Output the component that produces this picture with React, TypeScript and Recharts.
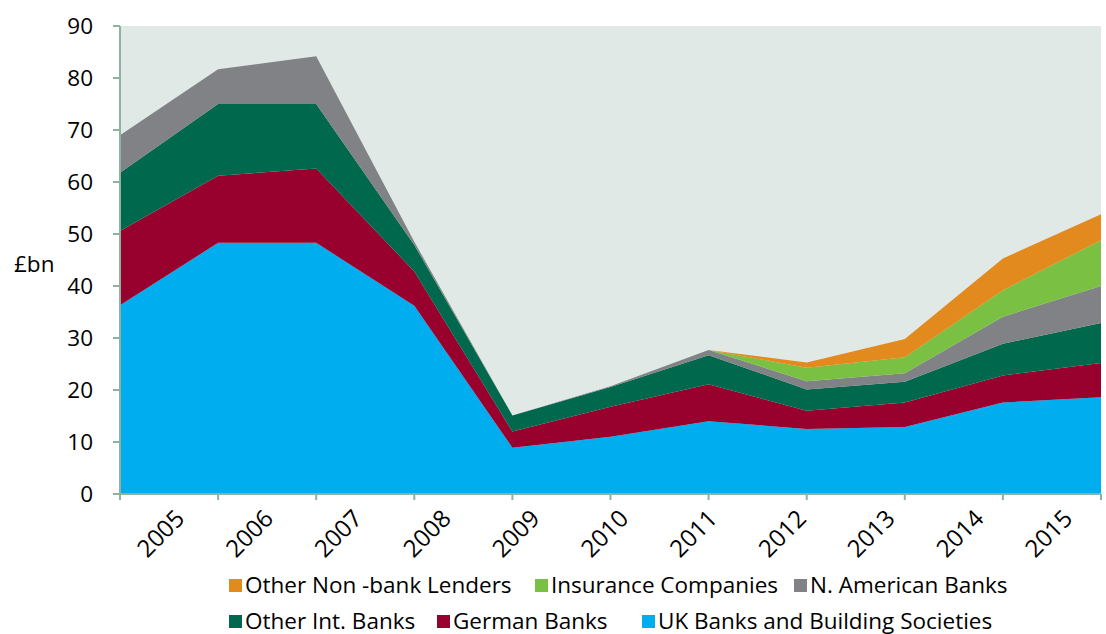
import React from "react";
import { AreaChart, Area, XAxis, YAxis, CartesianGrid, Legend } from "recharts";

const years = ["2005", "2006", "2007", "2008", "2009", "2010", "2011", "2012", "2013", "2014", "2015"];
const ukBanks = [36.3, 48.3, 48.3, 36.2, 8.9, 11.0, 14.0, 12.5, 12.9, 17.6, 18.6];
const germanBanks = [14.3, 12.9, 14.3, 6.6, 3.1, 5.8, 7.1, 3.5, 4.7, 5.2, 6.6];
const otherIntBanks = [11.2, 13.8, 12.4, 5.1, 3.1, 3.8, 5.6, 4.1, 4.0, 6.1, 7.7];
const nAmericanBanks = [7.2, 6.7, 9.2, 0.6, 0, 0.1, 1.0, 1.6, 1.6, 5.2, 7.1];
const insuranceCos = [0, 0, 0, 0, 0, 0, 0, 2.6, 3.1, 5.1, 8.8];
const otherNonBank = [0, 0, 0, 0, 0, 0, 0, 1.0, 3.5, 6.1, 5.0];
const yTicks = [0, 10, 20, 30, 40, 50, 60, 70, 80, 90];

const data = years.map((year, i) => ({
    year,
    uk: ukBanks[i],
    german: germanBanks[i],
    otherInt: otherIntBanks[i],
    nAmerican: nAmericanBanks[i],
    insurance: insuranceCos[i],
    nonBank: otherNonBank[i],
}));

// bottom to top
const series = [
    { key: "uk", name: "UK Banks and Building Societies", color: "#00aeef" },
    { key: "german", name: "German Banks", color: "#98002e" },
    { key: "otherInt", name: "Other Int. Banks", color: "#00684c" },
    { key: "nAmerican", name: "N. American Banks", color: "#808285" },
    { key: "insurance", name: "Insurance Companies", color: "#7ac143" },
    { key: "nonBank", name: "Other Non -bank Lenders", color: "#e38a1e" },
];

const FONT = "'Open Sans', sans-serif";
const FS = 22.5;
const AXIS = "#8db3a0";

const legendRows = [
    [{ key: "nonBank", w: 306 }, { key: "insurance", w: 259 }, { key: "nAmerican", w: 300 }],
    [{ key: "otherInt", w: 208 }, { key: "german", w: 205 }, { key: "uk", w: 440 }],
];

const EmptyTick = () => <g />;

const YearTick = ({ x, y, payload }: any) => (
    <text
        x={x}
        y={y}
        transform={`rotate(-45 ${x} ${y})`}
        textAnchor="end"
        fontSize={24}
        fontFamily={FONT}
        fill="#000"
    >
        {payload.value}
    </text>
);

const ChartLegend = () => (
    <div style={{ fontFamily: FONT, fontSize: FS, color: "#000", lineHeight: 1 }}>
        {legendRows.map((row, r) => (
            <div key={r} style={{ display: "flex", alignItems: "center", height: 36, paddingLeft: 229 }}>
                {row.map((item) => {
                    const s = series.find((x) => x.key === item.key)!;
                    return (
                        <div key={item.key} style={{ display: "flex", alignItems: "center", width: item.w, whiteSpace: "nowrap" }}>
                            <span style={{ width: 13, height: 13, background: s.color, marginRight: 3, display: "inline-block" }} />
                            <span>{s.name}</span>
                        </div>
                    );
                })}
            </div>
        ))}
    </div>
);

export default function App() {
    return (
        <div style={{ position: "absolute", left: 0, top: 0, width: 1106, height: 634, background: "#fff" }}>
            <AreaChart width={1106} height={634} data={data} margin={{ top: 26, right: 5, left: 0, bottom: 64 }}>
                <CartesianGrid fill="#e1e9e6" stroke="none" horizontal={false} vertical={false} />
                <XAxis
                    xAxisId="a"
                    dataKey="year"
                    interval={0}
                    height={6}
                    tickSize={6}
                    tick={EmptyTick}
                    stroke={AXIS}
                    strokeWidth={2}
                />
                <XAxis
                    xAxisId="b"
                    dataKey="year"
                    interval={0}
                    height={70}
                    axisLine={false}
                    tickLine={false}
                    tickSize={0}
                    tickMargin={20}
                    padding={{ left: 66, right: 27 }}
                    tick={YearTick}
                />
                <YAxis
                    domain={[0, 90]}
                    ticks={yTicks}
                    interval={0}
                    width={120}
                    tickSize={7}
                    tickMargin={20}
                    stroke={AXIS}
                    strokeWidth={2}
                    tick={{ fill: "#000", fontSize: FS, fontFamily: FONT }}
                    label={{ value: "£bn", position: "insideLeft", offset: 14, dy: 4, fill: "#000", fontSize: FS, fontFamily: FONT }}
                />
                {series.map((s) => (
                    <Area
                        key={s.key}
                        xAxisId="a"
                        type="linear"
                        dataKey={s.key}
                        name={s.name}
                        stackId="1"
                        stroke="none"
                        fill={s.color}
                        fillOpacity={1}
                        isAnimationActive={false}
                    />
                ))}
                <Legend
                    layout="horizontal"
                    verticalAlign="middle"
                    align="center"
                    content={ChartLegend}
                    wrapperStyle={{ top: 567, left: 0, width: 1106 }}
                />
            </AreaChart>
        </div>
    );
}
